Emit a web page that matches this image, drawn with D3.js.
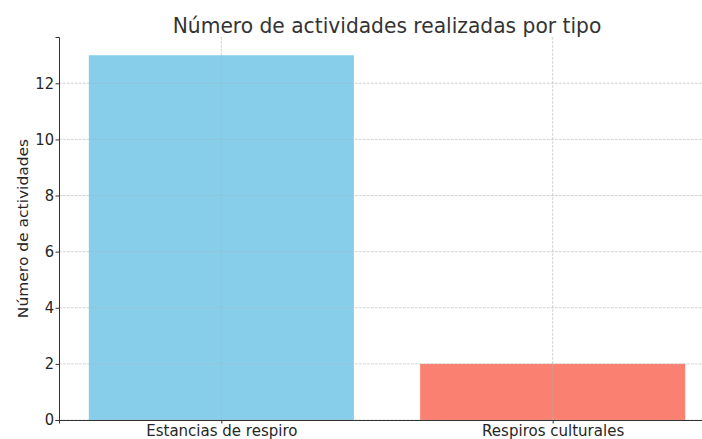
<!DOCTYPE html>
<html><head><meta charset="utf-8">
<script src="https://cdn.jsdelivr.net/npm/d3@7"></script>
<style>body{margin:0;background:#fff}svg{display:block}text{font-family:"DejaVu Sans",sans-serif}</style>
</head><body>
<script>
const categories = ["Estancias de respiro", "Respiros culturales"];
const values = [13, 2];
const colors = ["#87CEEB", "#FA8072"];
const yTicks = [0, 2, 4, 6, 8, 10, 12];
const title = "Número de actividades realizadas por tipo";
const yLabel = "Número de actividades";

const W = 702, H = 439;
const m = {left: 59, top: 37, bottom: 420, right: 715};
const svg = d3.select("body").append("svg").attr("width", W).attr("height", H);

const x = d3.scaleLinear().domain([-0.49, 1.49]).range([m.left, m.right]);
const y = d3.scaleLinear().domain([0, 13.65]).range([m.bottom, m.top]);

// bars
svg.selectAll("rect.bar").data(values).join("rect")
  .attr("x", (d, i) => x(i - 0.4))
  .attr("width", (d, i) => x(i + 0.4) - x(i - 0.4))
  .attr("y", d => y(d))
  .attr("height", d => y(0) - y(d))
  .attr("fill", (d, i) => colors[i]);

// grid
const g = svg.append("g").attr("stroke", "#b0b0b0").attr("stroke-opacity", 0.7)
  .attr("stroke-dasharray", "2.8,1.2").attr("stroke-width", 0.8);
yTicks.forEach(t => g.append("line").attr("x1", m.left).attr("x2", m.right)
  .attr("y1", y(t)).attr("y2", y(t)));
categories.forEach((c, i) => g.append("line").attr("x1", x(i)).attr("x2", x(i))
  .attr("y1", m.top).attr("y2", m.bottom));

// axes
const yAxis = svg.append("g").attr("transform", `translate(${m.left},0)`)
  .call(d3.axisLeft(y).tickValues(yTicks).tickSize(3.5).tickPadding(1.5).tickFormat(d3.format("d")));
const xAxis = svg.append("g").attr("transform", `translate(0,${m.bottom})`)
  .call(d3.axisBottom(x).tickValues([0, 1]).tickSize(3.5).tickPadding(1.5).tickFormat(i => categories[i]));
[yAxis, xAxis].forEach(a => {
  a.select(".domain").attr("stroke", "#333").attr("stroke-width", 1);
  a.selectAll(".tick line").attr("stroke", "#333");
  a.selectAll(".tick text").attr("fill", "#262626").style("font-size", "15.5px")
    .style("font-family", "DejaVu Sans");
});
xAxis.selectAll(".tick text").attr("transform", "scale(0.97,1)");
yAxis.selectAll(".tick text").attr("transform", "scale(0.95,1)").attr("x", -5 / 0.95);

svg.append("text").attr("transform", `translate(387,33) scale(0.964,1)`)
  .attr("text-anchor", "middle").attr("fill", "#333").style("font-size", "21px").text(title);
svg.append("text").attr("transform", `translate(28,${(m.top + m.bottom) / 2}) rotate(-90) scale(1,0.95)`)
  .attr("text-anchor", "middle").attr("fill", "#262626").style("font-size", "15.5px").text(yLabel);
</script>
</body></html>
